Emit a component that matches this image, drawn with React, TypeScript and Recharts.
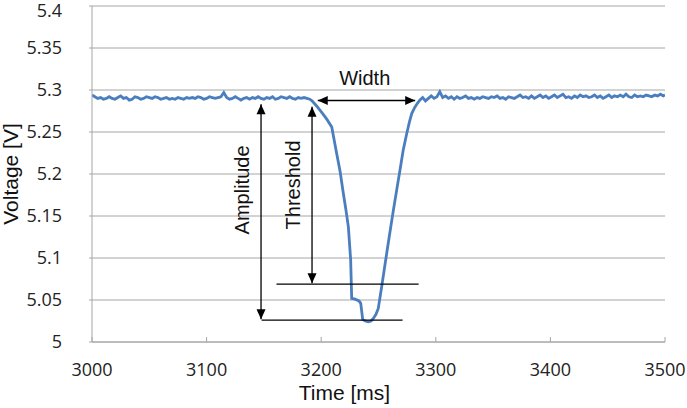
import React from 'react';
import { LineChart, Line, XAxis, YAxis, CartesianGrid, ReferenceLine, ReferenceDot } from 'recharts';

// Time [ms]
const times = [
  3000, 3002.5, 3005, 3007.5, 3010, 3012.5, 3015, 3017.5, 3020, 3022.5, 3025, 3027.5, 3030, 3032.5, 3035, 3037.5,
  3040, 3042.5, 3045, 3047.5, 3050, 3052.5, 3055, 3057.5, 3060, 3062.5, 3065, 3067.5, 3070, 3072.5, 3075, 3077.5,
  3080, 3082.5, 3085, 3087.5, 3090, 3092.5, 3095, 3097.5, 3100, 3102.5, 3105, 3107.5, 3110, 3112.5, 3115, 3117.5,
  3120, 3122.5, 3125, 3127.5, 3130, 3132.5, 3135, 3137.5, 3140, 3142.5, 3145, 3147.5, 3150, 3152.5, 3155, 3157.5,
  3160, 3162.5, 3165, 3167.5, 3170, 3172.5, 3175, 3177.5, 3180, 3182.5, 3185, 3187.5, 3190,
  3192, 3196, 3201.8, 3205, 3209.2, 3213.5, 3216.5, 3219.3, 3221.5, 3223.7, 3225.7, 3226.6, 3229.5,
  3233, 3234.5, 3236.2, 3238.5, 3241.1, 3243.5, 3245.5, 3247.8, 3249.8, 3252.8, 3255, 3257.2,
  3260, 3263, 3266, 3268.8, 3271.5, 3274.6, 3277, 3279, 3281.5, 3283.4,
  3286, 3288.5, 3291, 3293.5, 3296, 3298.5, 3301, 3303.5, 3306, 3308.5, 3311, 3313.5, 3316, 3318.5, 3321, 3323.5,
  3326, 3328.5, 3331, 3333.5, 3336, 3338.5, 3341, 3343.5, 3346, 3348.5, 3351, 3353.5, 3356, 3358.5, 3361, 3363.5,
  3366, 3368.5, 3371, 3373.5, 3376, 3378.5, 3381, 3383.5, 3386, 3388.5, 3391, 3393.5, 3396, 3398.5, 3401, 3403.5,
  3406, 3408.5, 3411, 3413.5, 3416, 3418.5, 3421, 3423.5, 3426, 3428.5, 3431, 3433.5, 3436, 3438.5, 3441, 3443.5,
  3446, 3448.5, 3451, 3453.5, 3456, 3458.5, 3461, 3463.5, 3466, 3468.5, 3471, 3473.5, 3476, 3478.5, 3481, 3483.5,
  3486, 3488.5, 3491, 3493.5, 3496, 3498.5, 3500,
];

// Voltage [V]
const volts = [
  5.294, 5.292, 5.290, 5.291, 5.289, 5.290, 5.292, 5.290, 5.289, 5.291, 5.293, 5.290, 5.291, 5.288, 5.289, 5.292,
  5.291, 5.289, 5.290, 5.292, 5.291, 5.290, 5.292, 5.291, 5.289, 5.290, 5.291, 5.289, 5.290, 5.289, 5.291, 5.290,
  5.289, 5.291, 5.290, 5.291, 5.290, 5.292, 5.291, 5.289, 5.290, 5.292, 5.291, 5.290, 5.291, 5.292, 5.297, 5.291,
  5.289, 5.290, 5.292, 5.290, 5.288, 5.290, 5.291, 5.289, 5.291, 5.290, 5.292, 5.290, 5.289, 5.291, 5.290, 5.292,
  5.289, 5.290, 5.292, 5.291, 5.290, 5.292, 5.290, 5.289, 5.291, 5.290, 5.291, 5.290, 5.289,
  5.287, 5.281, 5.271, 5.265, 5.256, 5.2245, 5.203, 5.177, 5.158, 5.137, 5.098, 5.052, 5.051,
  5.049, 5.046, 5.027, 5.025, 5.024, 5.025, 5.028, 5.033, 5.040, 5.066, 5.086, 5.106,
  5.131, 5.157, 5.182, 5.205, 5.228, 5.248, 5.262, 5.272, 5.279, 5.283,
  5.288, 5.291, 5.287, 5.290, 5.293, 5.290, 5.292, 5.298, 5.291, 5.293, 5.290, 5.292, 5.289, 5.292, 5.290, 5.291,
  5.293, 5.290, 5.291, 5.289, 5.291, 5.290, 5.292, 5.291, 5.290, 5.292, 5.291, 5.293, 5.290, 5.291, 5.289, 5.292,
  5.291, 5.290, 5.292, 5.294, 5.291, 5.292, 5.290, 5.293, 5.290, 5.292, 5.294, 5.291, 5.293, 5.290, 5.292, 5.294,
  5.291, 5.293, 5.295, 5.291, 5.292, 5.290, 5.293, 5.291, 5.294, 5.292, 5.293, 5.291, 5.292, 5.294, 5.291, 5.293,
  5.290, 5.292, 5.294, 5.291, 5.293, 5.292, 5.294, 5.292, 5.295, 5.292, 5.291, 5.294, 5.292, 5.293, 5.292, 5.294,
  5.293, 5.292, 5.294, 5.293, 5.295, 5.293, 5.294,
];

const xTicks = [3000, 3100, 3200, 3300, 3400, 3500];
const yTicks = [5, 5.05, 5.1, 5.15, 5.2, 5.25, 5.3, 5.35, 5.4];

// Annotation geometry in data units: [time, voltage]
const widthArrow = [[3197, 5.2875], [3282, 5.2875]];
const amplitudeArrow = [[3147.5, 5.283], [3147.5, 5.027]];
const amplitudeBase = [[3148, 5.026], [3271, 5.026]];
const thresholdArrow = [[3192, 5.280], [3192, 5.070]];
const thresholdBase = [[3161, 5.069], [3285, 5.069]];

const annotationTexts = [
  { label: 'Width', t: 3238, v: 5.314, rotate: false },
  { label: 'Amplitude', t: 3130.5, v: 5.181, rotate: true },
  { label: 'Threshold', t: 3175, v: 5.187, rotate: true },
];

const data = times.map((t, i) => ({ t, v: volts[i] }));

const seg = (p: number[][]) => [{ x: p[0][0], y: p[0][1] }, { x: p[1][0], y: p[1][1] }];

const head = (tx: number, ty: number, fx: number, fy: number) => {
  const dx = tx - fx;
  const dy = ty - fy;
  const len = Math.sqrt(dx * dx + dy * dy) || 1;
  const ux = dx / len;
  const uy = dy / len;
  const L = 10;
  const W = 4.5;
  const bx = tx - ux * L;
  const by = ty - uy * L;
  const pts = `${tx},${ty} ${bx - uy * W},${by + ux * W} ${bx + uy * W},${by - ux * W}`;
  return <polygon points={pts} fill="#000" />;
};

const ArrowShape = (props: any) => {
  const { x1, y1, x2, y2, heads } = props;
  if (x1 == null || y1 == null) return null;
  return (
    <g>
      <line x1={x1} y1={y1} x2={x2} y2={y2} stroke="#000" strokeWidth={1.3} />
      {heads ? head(x1, y1, x2, y2) : null}
      {heads ? head(x2, y2, x1, y1) : null}
    </g>
  );
};

const TextShape = (props: any) => {
  const { cx, cy, label, rotate } = props;
  if (cx == null || cy == null) return null;
  return (
    <text
      x={cx}
      y={cy}
      textAnchor="middle"
      dominantBaseline="central"
      fontFamily="'Liberation Sans', Arial, sans-serif"
      fontSize={20}
      fill="#111"
      transform={rotate ? `rotate(-90, ${cx}, ${cy})` : undefined}
    >
      {label}
    </text>
  );
};

export default function App() {
  return (
    <div style={{ position: 'absolute', left: 0, top: 0, background: '#fff' }}>
      <LineChart
        width={687}
        height={408}
        data={data}
        margin={{ top: 6, right: 22, left: 0, bottom: 0 }}
      >
        <CartesianGrid vertical={false} stroke="#a6a6a6" strokeWidth={1} />
        <XAxis
          type="number"
          dataKey="t"
          domain={[3000, 3500]}
          ticks={xTicks}
          allowDataOverflow
          height={66}
          axisLine={{ stroke: '#a6a6a6' }}
          tickLine={{ stroke: '#a6a6a6' }}
          tickSize={-5}
          tickMargin={26}
          tick={{ fontFamily: "'Open Sans', sans-serif", fontSize: 18, fill: '#222' }}
          label={{
            value: 'Time [ms]',
            position: 'insideBottom',
            offset: 8,
            dx: -34,
            style: { fontFamily: "'Liberation Sans', Arial, sans-serif", fontSize: 21, fill: '#111' },
          }}
        />
        <YAxis
          type="number"
          domain={[5, 5.4]}
          ticks={yTicks}
          allowDataOverflow
          width={92}
          axisLine={{ stroke: '#a6a6a6' }}
          tickLine={{ stroke: '#a6a6a6' }}
          tickSize={3}
          tickMargin={27}
          tickFormatter={(v: number) => String(v)}
          tick={{ fontFamily: "'Open Sans', sans-serif", fontSize: 18, fill: '#222' }}
          label={{
            value: 'Voltage [V]',
            angle: -90,
            position: 'insideLeft',
            offset: 11,
            style: { textAnchor: 'middle', fontFamily: "'Liberation Sans', Arial, sans-serif", fontSize: 21, fill: '#111' },
          }}
        />
        <Line
          type="linear"
          dataKey="v"
          stroke="#4a7ebf"
          strokeWidth={2.8}
          dot={false}
          isAnimationActive={false}
        />
        <ReferenceLine segment={seg(widthArrow)} shape={(p: any) => <ArrowShape {...p} heads />} />
        <ReferenceLine segment={seg(amplitudeArrow)} shape={(p: any) => <ArrowShape {...p} heads />} />
        <ReferenceLine segment={seg(amplitudeBase)} shape={(p: any) => <ArrowShape {...p} heads={false} />} />
        <ReferenceLine segment={seg(thresholdArrow)} shape={(p: any) => <ArrowShape {...p} heads />} />
        <ReferenceLine segment={seg(thresholdBase)} shape={(p: any) => <ArrowShape {...p} heads={false} />} />
        {annotationTexts.map((a) => (
          <ReferenceDot
            key={a.label}
            x={a.t}
            y={a.v}
            r={0}
            shape={(p: any) => <TextShape {...p} label={a.label} rotate={a.rotate} />}
          />
        ))}
      </LineChart>
    </div>
  );
}
